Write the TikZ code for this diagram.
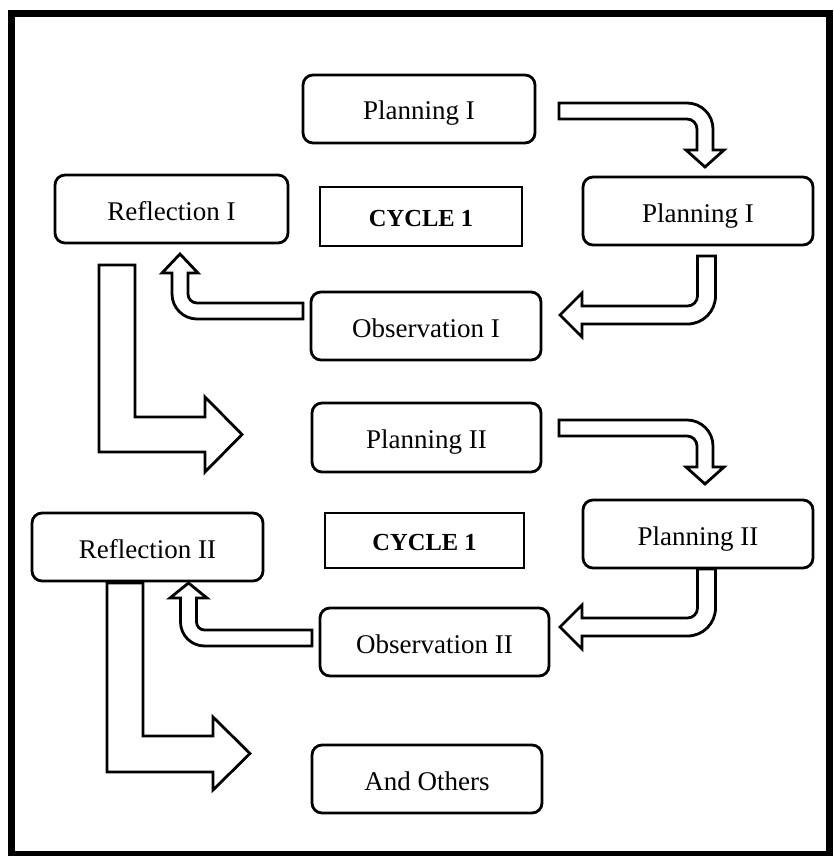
\documentclass[tikz,border=0pt]{standalone}
\usepackage{fontspec}
\setmainfont{Liberation Serif}
\begin{document}
\begin{tikzpicture}[x=1pt,y=1pt,yscale=-1,
  box/.style={draw=black, line width=2.8pt, rounded corners=10pt, fill=white,
    inner sep=0pt, text height=24pt, text depth=2pt, font=\fontsize{27}{32}\selectfont},
  cyc/.style={draw=black, line width=2.8pt, fill=white, inner sep=0pt,
    text height=21pt, text depth=2pt, font=\fontsize{24.5}{29}\selectfont\bfseries},
  barrow/.style={draw=black, line width=2.8pt, fill=white, line join=miter}]
\useasboundingbox (0,0) rectangle (834,856);
\fill[white] (0,0) rectangle (834,856);
\draw[line width=7pt] (11.5,13.5) rectangle (829.5,854.5);

% boxes
\node[box, minimum width=232pt, minimum height=68pt] (p1) at (419,109) {Planning I};
\node[box, minimum width=233pt, minimum height=68pt] (r1) at (171.5,209) {Reflection I};
\node[box, minimum width=230pt, minimum height=68pt] (p1r) at (698,211) {Planning I};
\node[cyc, minimum width=202pt, minimum height=59pt] (c1) at (421,216.5) {CYCLE 1};
\node[box, minimum width=230pt, minimum height=68pt] (o1) at (426,326) {Observation I};
\node[box, minimum width=229pt, minimum height=69pt] (p2) at (426.5,437.5) {Planning II};
\node[box, minimum width=230pt, minimum height=68pt] (p2r) at (698,534) {Planning II};
\node[box, minimum width=231pt, minimum height=68pt] (r2) at (147.5,547) {Reflection II};
\node[cyc, minimum width=199pt, minimum height=55pt] (c2) at (424.5,540.5) {CYCLE 1};
\node[box, minimum width=229pt, minimum height=68pt] (o2) at (434.5,642) {Observation II};
\node[box, minimum width=230pt, minimum height=68pt] (ao) at (427,779) {And Others};

% arrow A: Planning I -> Planning I (right)
\path[barrow] (559,103) -- (687,103) arc[start angle=-90, end angle=0, radius=26]
  -- (713,150) -- (724,150) -- (705,167) -- (686,150) -- (697,150) -- (697,129)
  arc[start angle=0, end angle=-90, radius=10] -- (559,119) -- cycle;
% arrow E: Planning II -> Planning II (right)
\begin{scope}[shift={(0,317)}]
\path[barrow] (559,103) -- (687,103) arc[start angle=-90, end angle=0, radius=26]
  -- (713,150) -- (724,150) -- (705,167) -- (686,150) -- (697,150) -- (697,129)
  arc[start angle=0, end angle=-90, radius=10] -- (559,119) -- cycle;
\end{scope}

% arrow B: Planning I (right) -> Observation I
\path[barrow] (697.5,256) -- (715.5,256) -- (715.5,296)
  arc[start angle=0, end angle=90, radius=28] -- (582,324) -- (582,337) -- (560,315)
  -- (582,293) -- (582,306) -- (687.5,306)
  arc[start angle=90, end angle=0, radius=10] -- cycle;
% arrow F: Planning II (right) -> Observation II
\begin{scope}[shift={(0,312)}]
\path[barrow] (697.5,257) -- (715.5,257) -- (715.5,296)
  arc[start angle=0, end angle=90, radius=28] -- (582,324) -- (582,337) -- (560,315)
  -- (582,293) -- (582,306) -- (687.5,306)
  arc[start angle=90, end angle=0, radius=10] -- cycle;
\end{scope}

% arrow C: Observation I -> Reflection I
\path[barrow] (303,319) -- (197,319) arc[start angle=90, end angle=180, radius=25]
  -- (172,273) -- (162,273) -- (180,254) -- (198,273) -- (188,273) -- (188,294)
  arc[start angle=180, end angle=90, radius=9] -- (303,303) -- cycle;
% arrow G: Observation II -> Reflection II
\path[barrow] (312,646) -- (204.5,646) arc[start angle=90, end angle=180, radius=24]
  -- (180.5,598) -- (170,598) -- (188.5,583) -- (207,598) -- (196.5,598) -- (196.5,622)
  arc[start angle=180, end angle=90, radius=8] -- (312,630) -- cycle;

% arrow D: Reflection I -> Planning II
\path[barrow] (99,265) -- (135,265) -- (135,417) -- (205,417) -- (205,397)
  -- (242,434.5) -- (205,472) -- (205,452) -- (99,452) -- cycle;
% arrow H: Reflection II -> And Others
\path[barrow] (107,583) -- (143,583) -- (143,736) -- (213,736) -- (213,717)
  -- (250,753.5) -- (213,790) -- (213,772) -- (107,772) -- cycle;
\end{tikzpicture}
\end{document}
